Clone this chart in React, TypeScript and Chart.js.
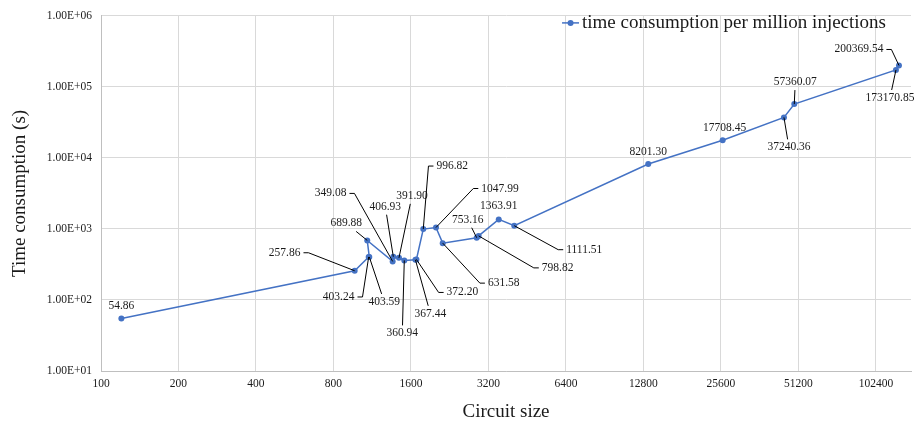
import React, { useEffect, useRef } from "react";
import { Chart, registerables } from "chart.js";

Chart.register(...registerables);

// ---- data ----
const circuitSizes = [
  120, 967, 1096, 1102, 1082, 1358, 1366, 1437, 1507, 1665, 1680, 1786, 2001,
  2125, 2880, 2930, 3507, 4030, 13360, 25990, 44970, 49320, 122460, 125800,
];
const timePerMillion = [
  54.86, 257.86, 403.24, 403.59, 689.88, 349.08, 406.93, 391.9, 360.94, 367.44,
  372.2, 996.82, 1047.99, 631.58, 753.16, 798.82, 1363.91, 1111.51, 8201.3,
  17708.45, 37240.36, 57360.07, 173170.85, 200369.54,
];
const xTickValues = [100, 200, 400, 800, 1600, 3200, 6400, 12800, 25600, 51200, 102400];
const yTickValues = [10, 100, 1000, 10000, 100000, 1000000];
const seriesName = "time consumption per million injections";
const xTitle = "Circuit size";
const yTitle = "Time consumption (s)";

// ---- label placement (style): offset of label centre from its point, leader kind ----
type LeaderKind = "none" | "side" | "edge";
const labelLayout: [number, number, LeaderKind][] = [
  [0, -13, "none"],
  [-70, -18, "side"],
  [-30, 40, "side"],
  [15, 45, "edge"],
  [-21, -17, "edge"],
  [-62, -68, "side"],
  [-8, -50, "edge"],
  [13, -62, "edge"],
  [-2, 73, "edge"],
  [15, 54, "edge"],
  [46, 33, "side"],
  [29, -63, "side"],
  [64, -39, "side"],
  [61, 40, "side"],
  [-9, -18, "edge"],
  [79, 32, "side"],
  [0, -13, "none"],
  [70, 24, "side"],
  [0, -12, "none"],
  [2, -12, "none"],
  [5, 30, "edge"],
  [1, -22, "edge"],
  [-6, 28, "edge"],
  [-40, -16, "side"],
];

const SERIF = '"Liberation Serif", "Times New Roman", serif';
const BLUE = "#4472C4";
const TEXT = "#1a1a1a";

function sci(v: number): string {
  const e = Math.round(Math.log10(v));
  const m = v / Math.pow(10, e);
  const sign = e < 0 ? "-" : "+";
  const ee = Math.abs(e).toString().padStart(2, "0");
  return `${m.toFixed(2)}E${sign}${ee}`;
}

const labelPlugin = {
  id: "pointLabels",
  afterDatasetsDraw(chart: any) {
    const ctx = chart.ctx;
    const meta = chart.getDatasetMeta(0);
    ctx.save();
    ctx.font = `11.5px ${SERIF}`;
    ctx.textAlign = "center";
    ctx.textBaseline = "middle";
    meta.data.forEach((pt: any, i: number) => {
      const layout = labelLayout[i];
      if (!layout) return;
      const [dx, dy, kind] = layout;
      const text = timePerMillion[i].toFixed(2);
      const cx = pt.x + dx;
      const cy = pt.y + dy;
      const w = ctx.measureText(text).width;
      ctx.strokeStyle = "#000";
      ctx.lineWidth = 1;
      if (kind === "side") {
        let s0: number, s1: number;
        if (pt.x > cx) {
          s0 = cx + w / 2 + 3;
          s1 = s0 + 5;
        } else {
          s0 = cx - w / 2 - 3;
          s1 = s0 - 5;
        }
        ctx.beginPath();
        ctx.moveTo(s0, cy);
        ctx.lineTo(s1, cy);
        ctx.lineTo(pt.x, pt.y);
        ctx.stroke();
      } else if (kind === "edge") {
        const vx = pt.x - cx;
        const vy = pt.y - cy;
        const hw = w / 2 + 2;
        const hh = 8;
        const tx = vx !== 0 ? hw / Math.abs(vx) : Infinity;
        const ty = vy !== 0 ? hh / Math.abs(vy) : Infinity;
        const t = Math.min(tx, ty);
        ctx.beginPath();
        ctx.moveTo(cx + vx * t, cy + vy * t);
        ctx.lineTo(pt.x, pt.y);
        ctx.stroke();
      }
      ctx.fillStyle = TEXT;
      ctx.fillText(text, cx, cy);
    });
    ctx.restore();
  },
  afterDraw(chart: any) {
    const ctx = chart.ctx;
    const area = chart.chartArea;
    ctx.save();
    ctx.font = `19px ${SERIF}`;
    const tw = ctx.measureText(seriesName).width;
    const textRight = area.right - 25;
    const textLeft = textRight - tw;
    const y = area.top + 7;
    ctx.strokeStyle = BLUE;
    ctx.lineWidth = 1.5;
    ctx.beginPath();
    ctx.moveTo(textLeft - 20, y);
    ctx.lineTo(textLeft - 3, y);
    ctx.stroke();
    ctx.fillStyle = BLUE;
    ctx.beginPath();
    ctx.arc(textLeft - 11.5, y, 3, 0, Math.PI * 2);
    ctx.fill();
    ctx.fillStyle = TEXT;
    ctx.textAlign = "left";
    ctx.textBaseline = "middle";
    ctx.fillText(seriesName, textLeft, y + 0.5);
    ctx.restore();
  },
};

export default function App() {
  const canvasRef = useRef<HTMLCanvasElement | null>(null);

  useEffect(() => {
    if (!canvasRef.current) return;
    const points = circuitSizes.map((x, i) => ({ x, y: timePerMillion[i] }));
    const chart = new Chart(canvasRef.current, {
      type: "scatter",
      data: {
        datasets: [
          {
            label: seriesName,
            data: points,
            showLine: true,
            borderColor: BLUE,
            backgroundColor: BLUE,
            borderWidth: 1.5,
            pointRadius: 3,
            pointHoverRadius: 3,
            pointBorderWidth: 0,
          },
        ],
      },
      options: {
        responsive: false,
        animation: false,
        events: [],
        layout: { padding: { top: 14, right: 0, left: 0, bottom: 0 } },
        plugins: {
          legend: { display: false },
          tooltip: { enabled: false },
        },
        scales: {
          x: {
            type: "logarithmic",
            min: 100,
            max: 140100,
            afterBuildTicks: (scale: any) => {
              scale.ticks = xTickValues.map((v) => ({ value: v }));
            },
            afterFit: (scale: any) => {
              scale.height = 52;
            },
            ticks: {
              autoSkip: false,
              maxRotation: 0,
              minRotation: 0,
              padding: 6,
              color: TEXT,
              font: { family: SERIF, size: 11.5 },
              callback: (v: any) => String(v),
            },
            grid: { color: "#d9d9d9", lineWidth: 1, drawTicks: false },
            border: { color: "#bfbfbf", width: 1 },
            title: {
              display: true,
              text: xTitle,
              color: TEXT,
              font: { family: SERIF, size: 19 },
              padding: { top: 0, bottom: 0 },
            },
          },
          y: {
            type: "logarithmic",
            min: 10,
            max: 1000000,
            afterBuildTicks: (scale: any) => {
              scale.ticks = yTickValues.map((v) => ({ value: v }));
            },
            afterFit: (scale: any) => {
              scale.width = 101;
            },
            ticks: {
              autoSkip: false,
              padding: 9,
              color: TEXT,
              font: { family: SERIF, size: 11.5 },
              callback: (v: any) => sci(Number(v)),
            },
            grid: { color: "#d9d9d9", lineWidth: 1, drawTicks: false },
            border: { color: "#bfbfbf", width: 1 },
            title: {
              display: true,
              text: yTitle,
              color: TEXT,
              font: { family: SERIF, size: 19 },
              padding: { top: 9, bottom: 0 },
            },
          },
        },
      },
      plugins: [labelPlugin],
    });
    return () => chart.destroy();
  }, []);

  return (
    <div style={{ position: "absolute", left: 0, top: 0, width: 914, height: 423, background: "#fff" }}>
      <canvas ref={canvasRef} width={914} height={423} style={{ display: "block" }} />
    </div>
  );
}
